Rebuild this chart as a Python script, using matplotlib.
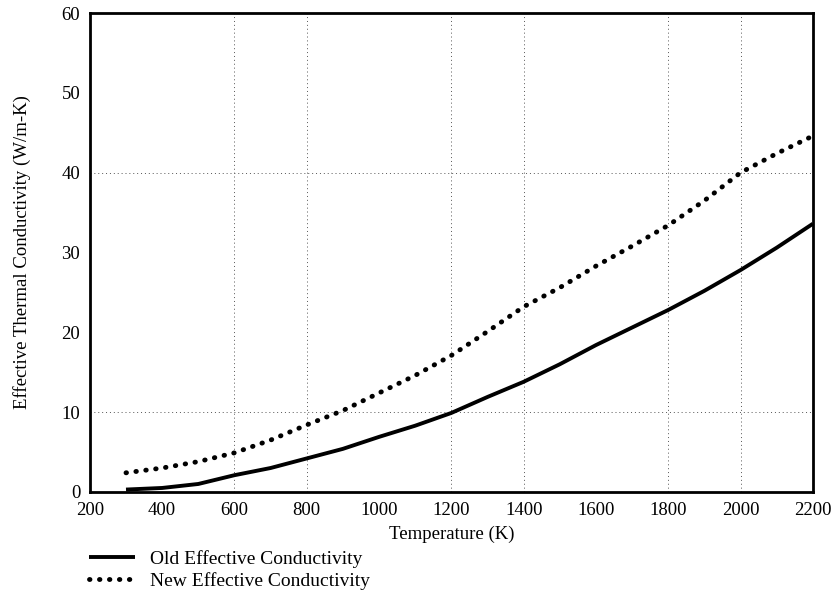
import matplotlib
matplotlib.use("Agg")
import matplotlib.pyplot as plt

# Data
temperature = [300, 400, 500, 600, 700, 800, 900, 1000, 1100, 1200, 1300,
               1400, 1500, 1600, 1700, 1800, 1900, 2000, 2100, 2200]
old_k = [0.3, 0.5, 1.0, 2.1, 3.0, 4.2, 5.4, 6.9, 8.3, 9.9, 11.9,
         13.8, 16.0, 18.4, 20.6, 22.8, 25.2, 27.8, 30.6, 33.6]
new_k = [2.4, 3.0, 3.8, 4.9, 6.5, 8.4, 10.2, 12.4, 14.6, 17.1, 20.1,
         23.2, 25.6, 28.3, 30.8, 33.4, 36.5, 40.0, 42.4, 44.6]

grid_temps = [600, 800, 1200, 1400, 1800, 2000]
grid_vals = [10, 40]

plt.rcParams['font.family'] = ['Liberation Serif', 'DejaVu Serif']

fig = plt.figure(figsize=(8.32, 5.92), dpi=100)
ax = fig.add_axes([0.108, 0.169, 0.869, 0.809])

# sparse dotted grid as in the scan
ax.vlines(grid_temps, 0, 60, colors='#555555', linestyles=(0, (1, 3)), linewidth=0.7, zorder=1)
ax.hlines(grid_vals, 200, 2200, colors='#555555', linestyles=(0, (1, 3)), linewidth=0.7, zorder=1)

ax.plot(temperature, old_k, color='black', linewidth=2.8,
        solid_capstyle='butt', label='Old Effective Conductivity', zorder=3)
ax.plot(temperature, new_k, color='black', linewidth=3.5,
        linestyle=(0, (0.1, 1.95)), dash_capstyle='round',
        label='New Effective Conductivity', zorder=3)

ax.set_xlim(200, 2200)
ax.set_ylim(0, 60)
ax.set_xticks(range(200, 2201, 200))
ax.set_yticks(range(0, 61, 10))
ax.tick_params(length=0, labelsize=13.5, pad=7)
for s in ax.spines.values():
    s.set_linewidth(2)

ax.set_xlabel("Temperature (K)", fontsize=13.5, labelpad=5)
ax.set_ylabel("Effective Thermal Conductivity (W/m-K)", fontsize=13.5, labelpad=22)

fig.legend(loc='upper left', bbox_to_anchor=(0.095, 0.088), frameon=False,
           fontsize=14, handlelength=2.4, handletextpad=0.75,
           labelspacing=0.22, borderpad=0)

fig.savefig("out.png", dpi=100)
